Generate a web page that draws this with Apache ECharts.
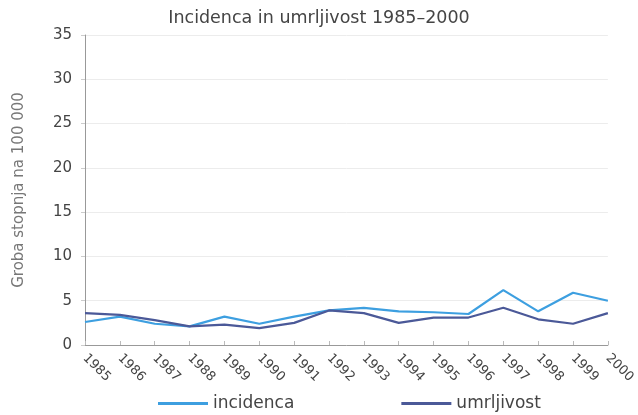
<!DOCTYPE html>
<html><head><meta charset="utf-8">
<script src="https://cdn.jsdelivr.net/npm/echarts@6/dist/echarts.min.js"></script>
<style>html,body{margin:0;padding:0;background:#fff}#c{width:638px;height:415px}</style>
</head><body><div id="c"></div>
<script>
const years = ['1985','1986','1987','1988','1989','1990','1991','1992','1993','1994','1995','1996','1997','1998','1999','2000'];
const incidenca = [2.6,3.2,2.4,2.1,3.2,2.4,3.2,3.9,4.2,3.8,3.7,3.5,6.2,3.8,5.9,5.0];
const umrljivost = [3.6,3.4,2.8,2.1,2.3,1.9,2.5,3.9,3.6,2.5,3.1,3.1,4.2,2.9,2.4,3.6];
const titleText = 'Incidenca in umrljivost 1985–2000';
const yName = 'Groba stopnja na 100 000';
const FONT = '"DejaVu Sans", sans-serif';
const chart = echarts.init(document.getElementById('c'));
chart.setOption({
  animation:false,
  title:{text:titleText,left:'center',top:4,textStyle:{fontFamily:FONT,fontWeight:'normal',fontSize:17.5,color:'#444'}},
  grid:{left:85,right:27,top:35,bottom:70},
  legend:{top:390,left:153,itemWidth:50,itemHeight:3,itemGap:107,icon:'rect',
    textStyle:{fontFamily:FONT,fontSize:17,color:'#444'},data:['incidenca','umrljivost']},
  xAxis:{type:'category',data:years,boundaryGap:false,
    axisLine:{lineStyle:{color:'#999'}},axisTick:{show:true,inside:true,length:4,lineStyle:{color:'#bbb'}},
    axisLabel:{rotate:-45,fontFamily:FONT,fontSize:13,color:'#444',margin:11}},
  yAxis:{type:'value',min:0,max:35,interval:5,name:yName,nameLocation:'middle',nameGap:58,
    nameTextStyle:{fontFamily:FONT,fontSize:15,color:'#777'},
    axisLine:{show:true,lineStyle:{color:'#999'}},axisTick:{show:true,length:4,lineStyle:{color:'#ccc'}},
    axisLabel:{fontFamily:FONT,fontSize:15,color:'#444',margin:13},
    splitLine:{lineStyle:{color:'#ececec'}}},
  series:[
    {name:'incidenca',type:'line',data:incidenca,showSymbol:false,color:'#3d9fe0',lineStyle:{width:2.2}},
    {name:'umrljivost',type:'line',data:umrljivost,showSymbol:false,color:'#4b5998',lineStyle:{width:2.2}}
  ]
});
</script></body></html>
